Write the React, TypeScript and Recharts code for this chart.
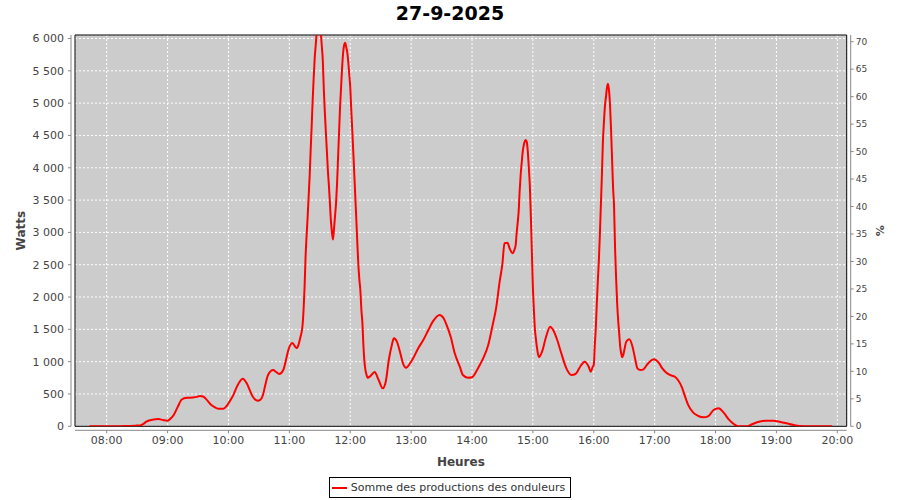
import React from 'react';
import { LineChart, Line, XAxis, YAxis, CartesianGrid, Legend, ReferenceArea } from 'recharts';

const times = [
  '07:43','07:50','08:00','08:10','08:20','08:28','08:33','08:36','08:39','08:45','08:51','08:56',
  '09:00','09:03','09:06','09:10','09:14','09:19','09:25','09:29','09:32','09:35','09:38','09:42','09:46','09:50','09:55','09:58',
  '10:01','10:05','10:08','10:11','10:14','10:18','10:21','10:24','10:29','10:31','10:34','10:36','10:39','10:44','10:47','10:50','10:54','10:57','10:59',
  '11:03','11:07','11:09','11:11','11:12','11:13','11:14','11:15','11:16','11:17','11:18','11:19','11:20','11:21','11:22','11:23','11:24','11:25','11:26','11:27','11:29','11:31','11:32','11:33','11:34','11:35','11:36','11:37','11:38','11:39','11:40','11:41','11:42','11:43','11:44','11:45','11:46','11:47','11:48','11:49','11:50','11:51','11:52','11:53','11:54','11:55','11:56','11:57','11:58','11:59',
  '12:00','12:01','12:02','12:03','12:04','12:05','12:06','12:07','12:08','12:09','12:10','12:11','12:12','12:13','12:14','12:15','12:16','12:17','12:20','12:24','12:28','12:32','12:35','12:38','12:41','12:43','12:46','12:49','12:52','12:55','12:59',
  '13:02','13:07','13:12','13:17','13:22','13:28','13:32','13:35','13:39','13:43','13:48','13:51','13:56',
  '14:00','14:05','14:08','14:11','14:16','14:20','14:24','14:27','14:30','14:32','14:35','14:37','14:40','14:42','14:43','14:44','14:45','14:46','14:47','14:48','14:49','14:50','14:51','14:52','14:53','14:54','14:55','14:56','14:57','14:58','14:59',
  '15:00','15:01','15:02','15:03','15:04','15:05','15:06','15:09','15:13','15:17','15:20','15:24','15:28','15:33','15:38','15:42','15:47','15:51','15:55','15:57','15:59',
  '16:00','16:01','16:02','16:03','16:04','16:05','16:06','16:07','16:08','16:09','16:10','16:11','16:12','16:13','16:14','16:15','16:16','16:17','16:18','16:19','16:20','16:21','16:22','16:23','16:24','16:25','16:26','16:27','16:28','16:29','16:30','16:32','16:35','16:38','16:41','16:43','16:46','16:49','16:53','16:56','16:59',
  '17:04','17:07','17:11','17:15','17:20','17:23','17:27','17:30','17:33','17:38','17:43','17:48','17:53','17:58',
  '18:03','18:08','18:13','18:18','18:22','18:31','18:36','18:42','18:50','18:57',
  '19:04','19:10','19:17','19:23','19:33','19:55',
];

const watts = [
  0, 0, 0, 0, 5, 10, 14, 35, 71, 100, 112, 95,
  87, 120, 175, 300, 415, 440, 445, 455, 470, 462, 420, 345, 300, 273, 273, 310,
  381, 490, 603, 690, 737, 665, 560, 458, 396, 405, 484, 620, 794, 871, 840, 809, 871, 1050, 1181,
  1290, 1210, 1260, 1386, 1450, 1560, 1800, 2150, 2630, 2950, 3230, 3550, 3870, 4270, 4650, 5050, 5400, 5700, 5900, 6100, 6250, 6080, 5880, 5650, 5200, 4850, 4550, 4250, 3950, 3720, 3450, 3170, 3000, 2890, 3050, 3250, 3450, 3750, 4150, 4550, 4950, 5250, 5550, 5780, 5900, 5935, 5870, 5790, 5650, 5450,
  5250, 4900, 4580, 4250, 3900, 3550, 3200, 2830, 2500, 2270, 2100, 1800, 1600, 1250, 1000, 870, 800, 752, 778, 840, 716, 588, 690, 1026, 1258, 1362, 1309, 1154, 975, 907, 975,
  1052, 1207, 1335, 1490, 1634, 1722, 1671, 1567, 1386, 1130, 922, 794, 752,
  760, 871, 960, 1052, 1258, 1541, 1851, 2213, 2522, 2832, 2841, 2754, 2677, 2740, 2800, 2990, 3150, 3330, 3650, 3900, 4080, 4250, 4350, 4410, 4430, 4400, 4250, 4000, 3720, 3250, 2700,
  2150, 1800, 1500, 1350, 1220, 1120, 1070, 1154, 1386, 1541, 1490, 1335, 1130, 897, 794, 809, 933, 1000, 922, 845, 922,
  950, 1250, 1520, 1900, 2250, 2560, 2960, 3420, 3880, 4400, 4700, 4950, 5100, 5240, 5300, 5200, 4980, 4600, 4150, 3700, 3400, 2750, 2300, 1920, 1650, 1450, 1240, 1130, 1070, 1100, 1170, 1309, 1346, 1243, 1026, 897, 871, 882, 964, 1010, 1037,
  984, 907, 836, 794, 767, 716, 600, 458, 330, 211, 159, 139, 159, 252,
  278, 211, 108, 36, 0, 0, 31, 67, 87, 87,
  67, 46, 20, 5, 0, 0,
];

const xTickLabels = ['08:00','09:00','10:00','11:00','12:00','13:00','14:00','15:00','16:00','17:00','18:00','19:00','20:00'];
const wattTicks = [0, 500, 1000, 1500, 2000, 2500, 3000, 3500, 4000, 4500, 5000, 5500, 6000];
const pctTicks = [0, 5, 10, 15, 20, 25, 30, 35, 40, 45, 50, 55, 60, 65, 70];

const seriesName = 'Somme des productions des onduleurs';
const title = '27-9-2025';

const toMin = (s: string) => {
  const [h, m] = s.split(':').map(Number);
  return h * 60 + m;
};
const data = times.map((t, i) => ({ m: toMin(t), w: watts[i] }));
const xTicks = xTickLabels.map(toMin);

const X_MIN = 448.76;
const X_MAX = 1209.26;
const W_MAX = 6054.2;
const P_MAX = 71.22;

const FONT = "'DejaVu Sans', sans-serif";
const AXIS_GRAY = '#888888';
const TEXT_GRAY = '#444444';

const fmtTime = (v: number) => {
  const h = Math.floor(v / 60);
  const m = Math.round(v - h * 60);
  return `${String(h).padStart(2, '0')}:${String(m).padStart(2, '0')}`;
};
const fmtThousands = (v: number) => String(v).replace(/\B(?=(\d{3})+(?!\d))/g, ' ');

const renderLegend = (props: any) => {
  const item = (props.payload && props.payload[0]) || { value: seriesName, color: '#ff0000' };
  return (
    <div style={{ display: 'flex', justifyContent: 'center' }}>
      <div
        style={{
          display: 'inline-flex',
          alignItems: 'center',
          border: '1px solid #000',
          height: 19,
          padding: '0 5px 0 2px',
          font: `11px ${FONT}`,
          color: '#333',
          background: '#fff',
        }}
      >
        <span style={{ display: 'inline-block', width: 15, height: 2, background: item.color, marginRight: 4 }} />
        <span>{item.value}</span>
      </div>
    </div>
  );
};

export default function App() {
  return (
    <div style={{ position: 'absolute', left: 0, top: 0, width: 900, height: 500, background: '#fff' }}>
      <div
        style={{
          position: 'absolute',
          left: 0,
          top: 0,
          width: 900,
          textAlign: 'center',
          font: `bold 19px ${FONT}`,
          lineHeight: '27px',
          color: '#000',
          zIndex: 2,
        }}
      >
        {title}
      </div>
      <LineChart width={900} height={500} data={data} margin={{ top: 35, right: 0, bottom: 2, left: 0 }}>
        <CartesianGrid yAxisId="w" stroke="#ffffff" strokeDasharray="2 2" fill="#cccccc" fillOpacity={1} />
        <XAxis
          type="number"
          dataKey="m"
          domain={[X_MIN, X_MAX]}
          allowDataOverflow
          ticks={xTicks}
          interval={0}
          tickFormatter={fmtTime}
          height={50.7}
          tickSize={3}
          tickMargin={7}
          axisLine={{ stroke: AXIS_GRAY, transform: 'translate(0,4)' }}
          tickLine={{ stroke: AXIS_GRAY, transform: 'translate(0,4)' }}
          tick={{ fill: TEXT_GRAY, fontSize: 11, fontFamily: FONT }}
          label={{ value: 'Heures', position: 'insideBottom', offset: 11, fill: TEXT_GRAY, fontSize: 12, fontWeight: 'bold', fontFamily: FONT }}
        />
        <YAxis
          yAxisId="w"
          type="number"
          domain={[0, W_MAX]}
          allowDataOverflow
          ticks={wattTicks}
          interval={0}
          width={75}
          tickSize={3}
          tickMargin={8}
          tickFormatter={fmtThousands}
          axisLine={{ stroke: AXIS_GRAY, transform: 'translate(-4,0)' }}
          tickLine={{ stroke: AXIS_GRAY, transform: 'translate(-4,0)' }}
          tick={{ fill: TEXT_GRAY, fontSize: 11, fontFamily: FONT }}
          label={{ value: 'Watts', angle: -90, position: 'insideLeft', offset: 21, fill: TEXT_GRAY, fontSize: 12, fontWeight: 'bold', fontFamily: FONT, style: { textAnchor: 'middle' } }}
        />
        <YAxis
          yAxisId="p"
          orientation="right"
          type="number"
          domain={[0, P_MAX]}
          allowDataOverflow
          ticks={pctTicks}
          interval={0}
          width={53.3}
          tickSize={3}
          tickMargin={6}
          axisLine={{ stroke: AXIS_GRAY, transform: 'translate(4,0)' }}
          tickLine={{ stroke: AXIS_GRAY, transform: 'translate(4,0)' }}
          tick={{ fill: TEXT_GRAY, fontSize: 9, fontFamily: FONT }}
          label={{ value: '%', angle: 90, position: 'insideRight', offset: 20, fill: TEXT_GRAY, fontSize: 11, fontWeight: 'bold', fontFamily: FONT, style: { textAnchor: 'middle' } }}
        />
        <ReferenceArea yAxisId="w" x1={X_MIN} x2={X_MAX} y1={0} y2={W_MAX} fill="none" stroke="#000000" strokeWidth={1} ifOverflow="visible" />
        <Line
          yAxisId="w"
          type="monotone"
          dataKey="w"
          name={seriesName}
          stroke="#ff0000"
          strokeWidth={2}
          dot={false}
          activeDot={false}
          isAnimationActive={false}
        />
        <Legend verticalAlign="bottom" align="center" content={renderLegend} />
      </LineChart>
    </div>
  );
}
